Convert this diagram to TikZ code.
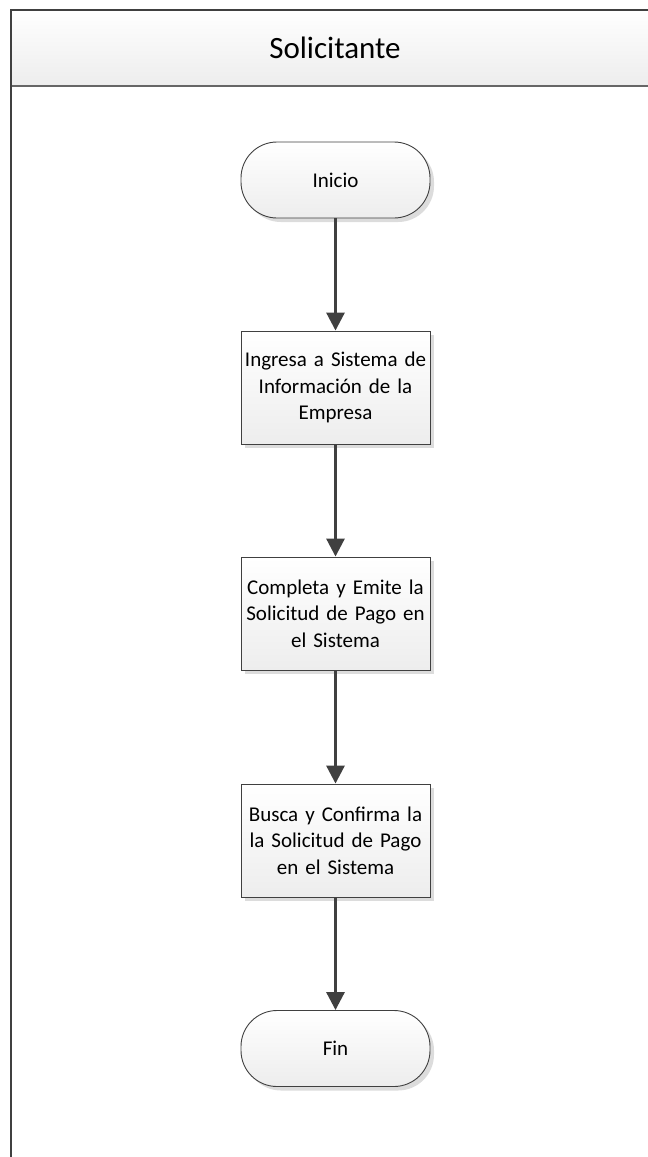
\documentclass[tikz,border=0pt]{standalone}
\usepackage{fontspec}
\setmainfont{Carlito}
\usetikzlibrary{arrows.meta,shadows,shapes.misc}
\definecolor{edge}{HTML}{404040}
\definecolor{shadowgray}{HTML}{DCDCDC}
\definecolor{fillbottom}{HTML}{EDEDED}
\tikzset{
  x=1pt, y=-1pt,
  shapebase/.style={draw=edge, line width=0.9pt, top color=white, bottom color=fillbottom,
    general shadow={shadow xshift=4pt, shadow yshift=-4pt, fill=shadowgray},
    font=\fontsize{21}{26.5}\selectfont, align=center, inner sep=0pt},
  stepbox/.style={shapebase, minimum width=189pt, minimum height=113pt, text width=186pt},
  terminal/.style={shapebase, rounded corners=36pt, minimum width=189pt, minimum height=76pt},
  flow/.style={draw=edge, line width=3pt, -{Triangle[length=18pt,width=18pt]}},
}
\begin{document}
\begin{tikzpicture}
\useasboundingbox (0,0) rectangle (648,1157);
\begin{scope}
\clip (0,0) rectangle (648,1157);
% swimlane header and body
\path[top color=white, bottom color=fillbottom] (11,10) rectangle (670,86);
\draw[draw=edge!80, line width=1.6pt] (11,86) -- (670,86);
\draw[draw=edge, line width=1.3pt] (670,10) -- (11,10) -- (11,1170);
\node[font=\fontsize{31}{36}\selectfont] (lane) at (335,48) {Solicitante};
\end{scope}
% process steps
\node[terminal] (inicio) at (335.5,180) {Inicio};
\node[stepbox] (s1) at (335.5,387.5) {Ingresa a Sistema de\\Información de la\\Empresa};
\node[stepbox] (s2) at (335.5,613.5) {Completa y Emite la\\Solicitud de Pago en\\el Sistema};
\node[stepbox] (s3) at (335.5,840.5) {Busca y Confirma la\\la Solicitud de Pago\\en el Sistema};
\node[terminal] (fin) at (335.5,1048.5) {Fin};
% connectors
\draw[flow] (inicio) -- (s1);
\draw[flow] (s1) -- (s2);
\draw[flow] (s2) -- (s3);
\draw[flow] (s3) -- (fin);
\end{tikzpicture}
\end{document}
